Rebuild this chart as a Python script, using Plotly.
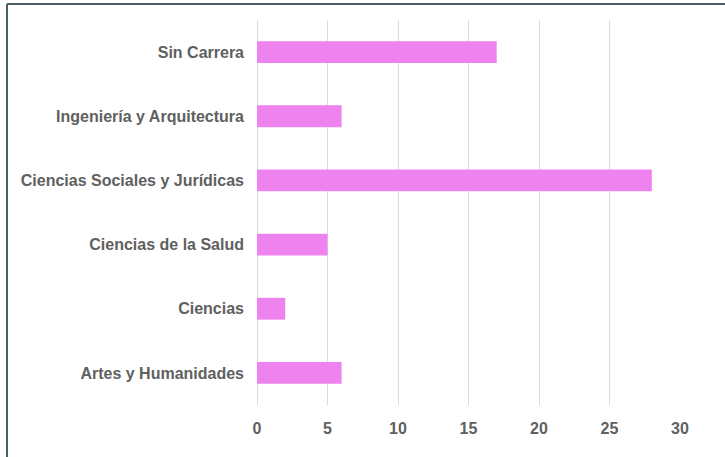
import plotly.graph_objects as go

categories = ["Artes y Humanidades", "Ciencias", "Ciencias de la Salud",
              "Ciencias Sociales y Jurídicas", "Ingeniería y Arquitectura", "Sin Carrera"]
values = [6, 2, 5, 28, 6, 17]
x_ticks = [0, 5, 10, 15, 20, 25, 30]

fig = go.Figure(go.Bar(
    x=values, y=categories, orientation="h",
    marker=dict(color="#EE82EE", line=dict(width=0)),
))

font = dict(family="Liberation Sans, Arial, sans-serif", size=16, color="#606060", weight="bold")

PW, PH = 423, 385
border_col = "#4d5d68"
xl = (7 - 257) / PW
yt = 1 + 16 / PH

fig.update_layout(
    width=725, height=457,
    margin=dict(l=257, r=45, t=20, b=52),
    paper_bgcolor="white", plot_bgcolor="white",
    bargap=0.66,
    showlegend=False,
    font=font,
    xaxis=dict(range=[0, 30], tickvals=x_ticks, showgrid=True, gridcolor="#dcdcdc",
               gridwidth=1, zeroline=True, zerolinecolor="#dcdcdc", zerolinewidth=1,
               showline=False, ticks="", tickfont=font, ticklabelstandoff=12, fixedrange=True),
    yaxis=dict(categoryorder="array", categoryarray=categories, showgrid=False,
               zeroline=False, showline=False, ticks="", tickfont=font,
               ticklabelstandoff=12, fixedrange=True),
    shapes=[
        dict(type="line", xref="paper", yref="paper", x0=xl, x1=1.2, y0=yt, y1=yt,
             line=dict(color=border_col, width=2), layer="below"),
        dict(type="line", xref="paper", yref="paper", x0=xl, x1=xl, y0=-0.2, y1=yt,
             line=dict(color=border_col, width=2), layer="below"),
    ],
)

fig.write_html("out.html", config={"displayModeBar": False},
               post_script="document.body.style.margin='0px';")
